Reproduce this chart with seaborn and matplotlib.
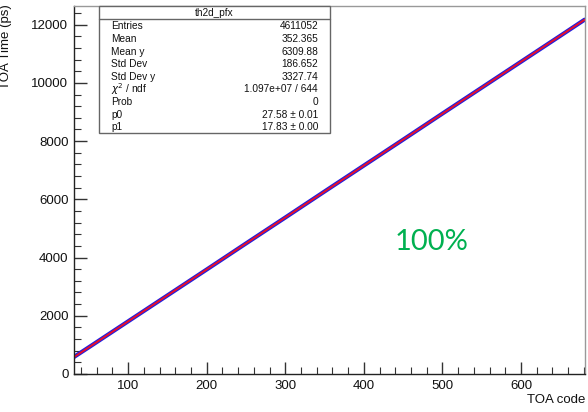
import matplotlib
matplotlib.use("Agg")
import matplotlib.pyplot as plt
import seaborn as sns
import pandas as pd
from matplotlib.patches import Rectangle
from matplotlib.ticker import MultipleLocator

sns.set_theme(style="white")
plt.rcParams['font.family'] = ['Liberation Sans', 'DejaVu Sans']

# Profile points (TOA code -> TOA time in ps)
prof_x = [31, 50, 100, 150, 200, 250, 300, 350, 400, 450, 500, 550, 600, 650, 681]
prof_y = [585, 920, 1810, 2700, 3590, 4485, 5375, 6270, 7160, 8050, 8945, 9835, 10725, 11615, 12170]
# Fit line endpoints
fit_x = [31, 681]
fit_y = [580, 12170]

stat_labels = ["Entries", "Mean", "Mean y", "Std Dev", "Std Dev y",
               r"$\chi^2$ / ndf", "Prob", "p0", "p1"]
stat_values = ["4611052", "352.365", "6309.88", "186.652", "3327.74",
               "1.097e+07 / 644", "0", "27.58 ± 0.01", "17.83 ± 0.00"]
stat_title = "th2d_pfx"
efficiency_text = "100%"

W, H = 588, 412
fig = plt.figure(figsize=(W / 100, H / 100), dpi=100)
fig.patch.set_facecolor("white")
ax = fig.add_axes([74 / W, 1 - 374 / H, (585 - 74) / W, (374 - 6) / H])

prof = pd.DataFrame({"x": prof_x, "y": prof_y})
fit = pd.DataFrame({"x": fit_x, "y": fit_y})
sns.lineplot(data=prof, x="x", y="y", ax=ax, color="#1f1fe0", linewidth=3.0,
             marker="s", markersize=2, markeredgewidth=0, estimator=None, sort=True)
sns.lineplot(data=fit, x="x", y="y", ax=ax, color="#e8102a", linewidth=1.4, estimator=None)

ax.set_xlim(31, 681.5)
ax.set_ylim(0, 12640)
ax.xaxis.set_major_locator(MultipleLocator(100))
ax.xaxis.set_minor_locator(MultipleLocator(20))
ax.yaxis.set_major_locator(MultipleLocator(2000))
ax.yaxis.set_minor_locator(MultipleLocator(400))
ax.tick_params(which="major", direction="in", length=9, width=1, color="#333333",
               labelsize=9.5, bottom=True, left=True, top=False, right=False,
               pad=4, labelcolor="#111111")
ax.tick_params(which="minor", direction="in", length=5, width=0.8, color="#333333",
               bottom=True, left=True, top=False, right=False)
for side in ["left", "bottom"]:
    ax.spines[side].set_color("#222222")
    ax.spines[side].set_linewidth(1.0)
for side in ["top", "right"]:
    ax.spines[side].set_color("#999999")
    ax.spines[side].set_linewidth(1.0)
ax.grid(False)
ax.set_xlabel("")
ax.set_ylabel("")

fig.text(585 / W, 1 - 400 / H, "TOA code", ha="right", va="center", fontsize=9.5, color="#111111")
fig.text(12 / W, 1 - 4 / H, "TOA Time (ps)", ha="right", va="top", rotation=90,
         fontsize=9.5, color="#111111")

# Stats box
bx0, bx1, by0, by1 = 99, 330, 6, 133
rect = Rectangle((bx0 / W, 1 - by1 / H), (bx1 - bx0) / W, (by1 - by0) / H,
                 transform=fig.transFigure, facecolor="white", edgecolor="#666666",
                 linewidth=1.0, zorder=5)
fig.add_artist(rect)
fig.add_artist(plt.Line2D([bx0 / W, bx1 / W], [1 - 19 / H, 1 - 19 / H],
                          transform=fig.transFigure, color="#666666", linewidth=1.0, zorder=6))
fig.text((bx0 + bx1) / 2 / W, 1 - 12.5 / H, stat_title, ha="center", va="center",
         fontsize=7.2, color="#111111", zorder=7)
row_y = [26, 39, 52, 64, 77, 89, 102, 115, 127]
for lab, val, yy in zip(stat_labels, stat_values, row_y):
    fig.text(111 / W, 1 - yy / H, lab, ha="left", va="center", fontsize=7.3,
             color="#111111", zorder=7)
    fig.text(318 / W, 1 - yy / H, val, ha="right", va="center", fontsize=7.3,
             color="#111111", zorder=7)

fig.text(432 / W, 1 - 242 / H, efficiency_text, ha="center", va="center",
         fontsize=21, color="#00b050", family=["Lato", "DejaVu Sans"])

fig.savefig("out.png", dpi=100, facecolor="white")
